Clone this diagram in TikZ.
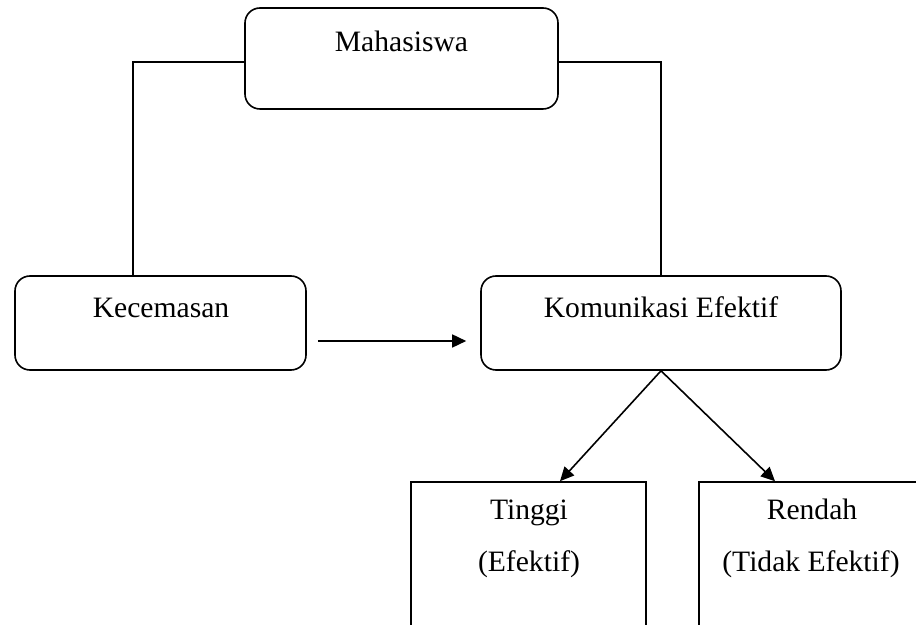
\documentclass[tikz,border=0pt]{standalone}
\usepackage{fontspec}
\setmainfont{Liberation Serif}
\usetikzlibrary{positioning, arrows.meta, calc}
\definecolor{diaInk}{HTML}{000000}

\tikzset{
  softbox/.style={draw=diaInk, line width=0.8pt, rounded corners=7.5pt, inner sep=0pt},
  flatbox/.style={draw=diaInk, line width=0.8pt, inner sep=0pt},
  boxtext/.style={anchor=base, inner sep=0pt, font=\fontsize{14.8}{18}\selectfont, text=diaInk},
  link/.style={draw=diaInk, line width=0.8pt},
  flow/.style={link, -{Triangle[length=7pt, width=6.5pt]}}
}

\begin{document}
\begin{tikzpicture}[x=0.5pt, y=-0.5pt]
    \useasboundingbox (0,0) rectangle (916,625);
    \clip (0,0) rectangle (916,625);
    \node[softbox, minimum width=156.5pt, minimum height=50.5pt] (mhs) at (401.5,58.5) {};
    \node[softbox, minimum width=145.5pt, minimum height=47pt] (kec) at (160.5,323) {};
    \node[softbox, minimum width=180pt, minimum height=47pt] (kom) at (661,323) {};
    \node[flatbox, minimum width=117.5pt, minimum height=100pt] (tng) at (528.5,582) {};
    \node[flatbox, minimum width=113pt, minimum height=100pt] (rdh) at (812,582) {};

    \node[boxtext] (mhs-text) at (401.5,52) {Mahasiswa};
    \node[boxtext] (kec-text) at (161,318) {Kecemasan};
    \node[boxtext] (kom-text) at (661,318) {Komunikasi Efektif};
    \node[boxtext] (tng-text) at (529,520) {Tinggi};
    \node[boxtext] (tng-sub) at (529,572) {(Efektif)};
    \node[boxtext] (rdh-text) at (812,520) {Rendah};
    \node[boxtext] (rdh-sub) at (811,572) {(Tidak Efektif)};

    \draw[link] ([yshift=-1.75pt]mhs.west) -| ($(kec.north)+(-27.5,0)$);
    \draw[link] ([yshift=-1.75pt]mhs.east) -| (kom.north);
    \draw[flow] ([xshift=5.5pt, yshift=-9pt]kec.east) -- ([xshift=-7pt, yshift=-9pt]kom.west);
    \draw[flow] (kom.south) -- ([xshift=15.75pt]tng.north);
    \draw[flow] (kom.south) -- ([xshift=-18.5pt]rdh.north);
\end{tikzpicture}
\end{document}
